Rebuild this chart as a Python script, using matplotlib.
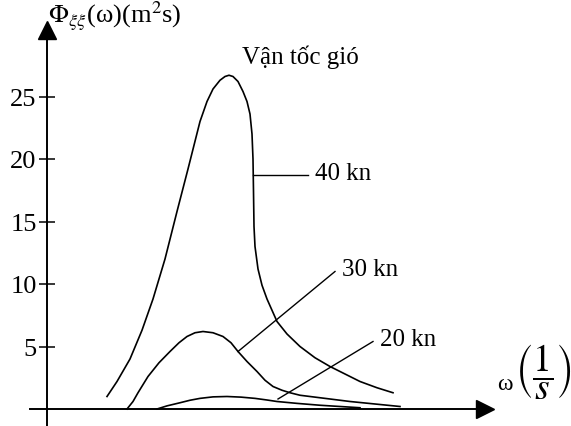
import matplotlib.pyplot as plt

plt.rcParams['font.family'] = ['Liberation Serif', 'DejaVu Serif']
plt.rcParams['mathtext.fontset'] = 'stix'

# values (omega in arbitrary units)
w40 = [0.60, 0.70, 0.83, 0.95, 1.06, 1.18, 1.30, 1.41, 1.53, 1.60, 1.66, 1.73,
       1.78, 1.82, 1.86, 1.91, 1.96, 2.00, 2.03, 2.05, 2.06, 2.065, 2.07, 2.08,
       2.11, 2.15, 2.20, 2.30, 2.40, 2.53, 2.68, 2.83, 2.98, 3.13, 3.30, 3.46]
s40 = [1.0, 2.2, 4.0, 6.3, 8.8, 12.0, 15.8, 19.2, 23.0, 24.6, 25.6, 26.3,
       26.6, 26.7, 26.6, 26.2, 25.4, 24.6, 23.6, 22.0, 20.0, 17.4, 14.6, 13.0,
       11.2, 9.9, 8.8, 7.0, 6.0, 5.0, 4.1, 3.4, 2.8, 2.2, 1.7, 1.3]

w30 = [0.80, 0.86, 0.91, 1.01, 1.12, 1.23, 1.32, 1.40, 1.48, 1.56, 1.66, 1.76,
       1.84, 1.91, 2.00, 2.10, 2.18, 2.26, 2.35, 2.43, 2.53, 2.78, 3.03, 3.28, 3.53]
s30 = [0.0, 0.6, 1.3, 2.6, 3.7, 4.6, 5.3, 5.8, 6.1, 6.2, 6.1, 5.8,
       5.3, 4.6, 3.8, 3.0, 2.3, 1.8, 1.5, 1.3, 1.1, 0.85, 0.6, 0.4, 0.2]

w20 = [1.10, 1.20, 1.33, 1.43, 1.53, 1.66, 1.80, 1.94, 2.08, 2.20, 2.30, 2.50,
       2.73, 2.93, 3.13]
s20 = [0.0, 0.25, 0.5, 0.7, 0.85, 0.97, 1.0, 0.95, 0.85, 0.72, 0.6, 0.45,
       0.3, 0.2, 0.1]

yticks = [5, 10, 15, 20, 25]
labels = ['40 kn', '30 kn', '20 kn']
# leader lines: start on curve, end at label
lead_start = [(2.06, 18.7), (1.91, 4.6), (2.31, 0.8)]
lead_end = [(2.61, 18.7), (2.88, 11.0), (3.26, 5.4)]

fig = plt.figure(figsize=(5.71, 4.27), dpi=100)
ax = fig.add_axes([0, 0, 1, 1])
ax.set_xlim(-0.47, 5.24)
ax.set_ylim(-1.36, 32.8)

for w, s in [(w40, s40), (w30, s30), (w20, s20)]:
    ax.plot(w, s, color='black', lw=1.2)

for lab, p0, p1 in zip(labels, lead_start, lead_end):
    ax.plot([p0[0], p1[0]], [p0[1], p1[1]], color='black', lw=1.0)
    ax.text(p1[0] + 0.07, p1[1] + 0.2, lab, fontsize=18, ha='left', va='center')

# axes drawn as spines through the origin
for side in ['top', 'right']:
    ax.spines[side].set_visible(False)
ax.spines['left'].set_position(('data', 0))
ax.spines['bottom'].set_position(('data', 0))
ax.spines['left'].set_bounds(-1.36, 30.0)
ax.spines['bottom'].set_bounds(-0.17, 4.35)
ax.spines['left'].set_linewidth(1.4)
ax.spines['bottom'].set_linewidth(1.4)
ax.plot(4.38, 0, marker='>', ms=13, color='black', clip_on=False)
ax.plot(0, 30.3, marker='^', ms=13, color='black', clip_on=False)

ax.set_xticks([])
ax.set_yticks(yticks)
ax.set_yticklabels([str(t) for t in yticks], fontsize=19)
ax.tick_params(axis='y', direction='inout', length=11, width=1.1, pad=2)

ax.text(0.01, 31.5, r'$\Phi_{\xi\xi}$(ω)(m$^2$s)', fontsize=19, ha='left', va='center')
ax.text(2.53, 28.2, 'Vận tốc gió', fontsize=18, ha='center', va='center')
ax.text(4.58, 2.0, 'ω', fontsize=17, ha='center', va='center')
ax.text(4.96, 3.0, r'$\left(\dfrac{1}{s}\right)$', fontsize=27, ha='center', va='center')

fig.savefig('out.png', dpi=100)
